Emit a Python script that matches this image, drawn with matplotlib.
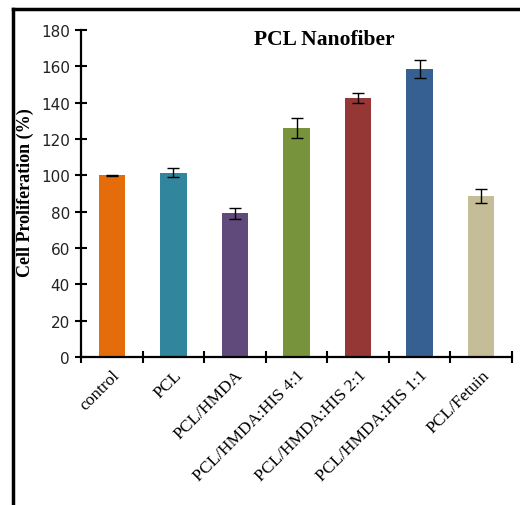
import matplotlib.pyplot as plt
from matplotlib.lines import Line2D

groups = ['control', 'PCL', 'PCL/HMDA', 'PCL/HMDA:HIS 4:1',
          'PCL/HMDA:HIS 2:1', 'PCL/HMDA:HIS 1:1', 'PCL/Fetuin']
values = [100, 101.5, 79, 126, 142.5, 158.5, 88.5]
errors = [0.4, 2.5, 3, 5.5, 2.8, 5, 4]
colors = ['#E46C0A', '#31859C', '#604A7B', '#77933C', '#953735', '#376092', '#C4BD97']

fig = plt.figure(figsize=(5.2, 5.06), dpi=100)
ax = fig.add_axes([81 / 520, 1 - 358 / 506, 431 / 520, 327 / 506])

x = range(len(groups))
ax.bar(x, values, width=0.43, color=colors, zorder=2)
ax.errorbar(x, values, yerr=errors, fmt='none', ecolor='black',
            elinewidth=1, capsize=4, capthick=1, zorder=3)

ax.set_xlim(-0.5, len(groups) - 0.5)
ax.set_ylim(0, 180)
ax.set_yticks(range(0, 181, 20))
ax.set_xticks([i - 0.5 for i in range(len(groups) + 1)])
ax.set_xticklabels([])
ax.set_xticks(list(x), minor=True)
ax.set_xticklabels(groups, minor=True, rotation=45, ha='right',
                   rotation_mode='anchor', family='Liberation Serif', fontsize=12.5)
ax.tick_params(axis='x', which='minor', length=0, pad=7)
ax.tick_params(axis='both', which='major', direction='inout', length=8, width=1.5)
ax.tick_params(axis='y', labelsize=11, labelcolor='#222222', pad=4)

for s in ['top', 'right']:
    ax.spines[s].set_visible(False)
for s in ['left', 'bottom']:
    ax.spines[s].set_linewidth(1.6)

fig.text(324 / 520, 1 - 40 / 506, 'PCL Nanofiber', ha='center', va='center',
         family='Liberation Serif', fontweight='bold', fontsize=15.5)
fig.text(25 / 520, 1 - 193 / 506, 'Cell Proliferation (%)', ha='center', va='center',
         rotation=90, family='Liberation Serif', fontweight='bold', fontsize=13)

# outer frame (left and top edges visible)
fig.add_artist(Line2D([13 / 520, 13 / 520], [0, 1 - 10 / 506], color='black',
                      lw=2.5, transform=fig.transFigure))
fig.add_artist(Line2D([13 / 520, 1], [1 - 10 / 506, 1 - 10 / 506], color='black',
                      lw=2.5, transform=fig.transFigure))

fig.savefig('out.png', dpi=100)
